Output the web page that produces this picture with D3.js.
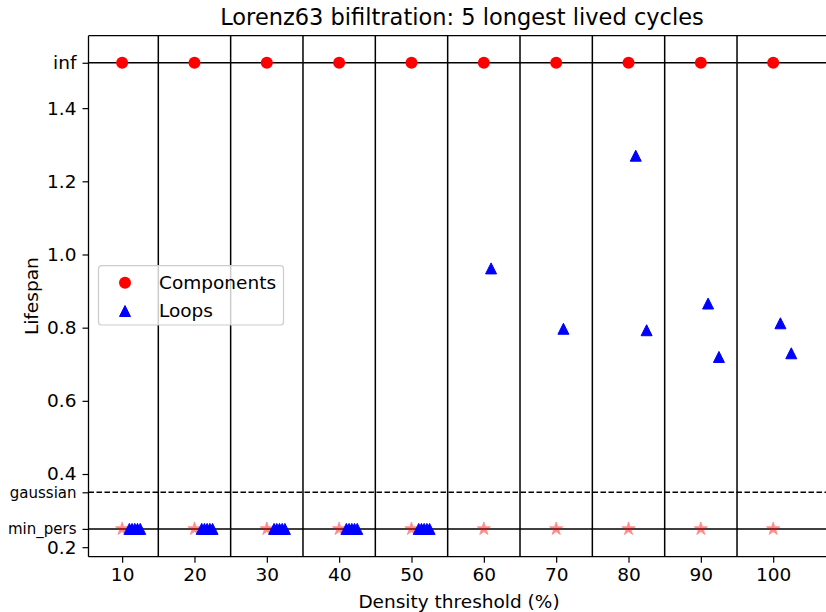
<!DOCTYPE html>
<meta charset="utf-8">
<style>
body{margin:0;background:#fff;}
#chart text{font-family:"DejaVu Sans",sans-serif;fill:#000;}
</style>
<div id="chart"></div>
<script src="https://d3js.org/d3.v7.min.js"></script>
<script>
// data
var thresholds = [10, 20, 30, 40, 50, 60, 70, 80, 90, 100];
var infValue = 1.524;
var gaussianValue = 0.35;
var minPersValue = 0.25;
var separators = [15, 25, 35, 45, 55, 65, 75, 85, 95];
var loopX = [
  [11, 11.375, 11.75, 12.125, 12.5],
  [21, 21.375, 21.75, 22.125, 22.5],
  [31, 31.375, 31.75, 32.125, 32.5],
  [41, 41.375, 41.75, 42.125, 42.5],
  [51, 51.375, 51.75, 52.125, 52.5],
  [61],
  [71],
  [81, 82.5],
  [91, 92.5],
  [101, 102.5]
];
var loopY = [
  [0.25, 0.25, 0.25, 0.25, 0.25],
  [0.25, 0.25, 0.25, 0.25, 0.25],
  [0.25, 0.25, 0.25, 0.25, 0.25],
  [0.25, 0.25, 0.25, 0.25, 0.25],
  [0.25, 0.25, 0.25, 0.25, 0.25],
  [0.962],
  [0.797],
  [1.27, 0.793],
  [0.866, 0.72],
  [0.812, 0.73]
];
var yTicks = [0.2, 0.4, 0.6, 0.8, 1.0, 1.2, 1.4];
var yTickNames = ["0.2", "0.4", "0.6", "0.8", "1.0", "1.2", "1.4"];
var specialTicks = [infValue, gaussianValue, minPersValue];
var specialNames = ["inf", "gaussian", "min_pers"];
var legendNames = ["Components", "Loops"];

var W = 826, H = 612;
var plot = { left: 88.5, top: 35.7, right: 826, bottom: 556.7 };

var svg = d3.select("#chart").append("svg")
  .attr("width", W).attr("height", H);

var x = d3.scaleLinear().domain([5.35, 107.3]).range([plot.left, plot.right]);
var y = d3.scaleLinear().domain([0.174, 1.598]).range([plot.bottom, plot.top]);

// separators and reference lines
svg.append("g").selectAll("line").data(separators).enter().append("line")
  .attr("x1", function(d) { return x(d); }).attr("x2", function(d) { return x(d); })
  .attr("y1", plot.top).attr("y2", plot.bottom)
  .attr("stroke", "#000").attr("stroke-width", 1.5);

svg.append("g").selectAll("line").data([infValue, minPersValue]).enter().append("line")
  .attr("x1", plot.left).attr("x2", W + 5)
  .attr("y1", function(d) { return y(d); }).attr("y2", function(d) { return y(d); })
  .attr("stroke", "#000").attr("stroke-width", 1.5);

svg.append("line")
  .attr("x1", plot.left).attr("x2", W + 5)
  .attr("y1", y(gaussianValue)).attr("y2", y(gaussianValue))
  .attr("stroke", "#000").attr("stroke-width", 1.5)
  .attr("stroke-dasharray", "5.5,2.5");

// axes
var xAxis = svg.append("g")
  .attr("transform", "translate(0," + plot.bottom + ")")
  .call(d3.axisBottom(x).tickValues(thresholds).tickSize(6).tickPadding(5).tickSizeOuter(0));
xAxis.select(".domain").remove();
xAxis.selectAll("line").attr("stroke", "#000").attr("stroke-width", 1.2);
xAxis.selectAll("text").attr("font-size", "18.5px");

var allY = yTicks.concat(specialTicks);
var allNames = yTickNames.concat(specialNames);
var yAxis = svg.append("g")
  .attr("transform", "translate(" + plot.left + ",0)")
  .call(d3.axisLeft(y).tickValues(allY).tickSize(6).tickPadding(6).tickSizeOuter(0)
    .tickFormat(function(d) { return allNames[allY.indexOf(d)]; }));
yAxis.select(".domain").remove();
yAxis.selectAll("line").attr("stroke", "#000").attr("stroke-width", 1.2);
yAxis.selectAll("text").attr("font-size", function(d) {
  return (d === gaussianValue || d === minPersValue) ? "15px" : "18.5px";
});

// spines
svg.append("line").attr("x1", plot.left).attr("x2", plot.left)
  .attr("y1", plot.top).attr("y2", plot.bottom).attr("stroke", "#000").attr("stroke-width", 1.3);
svg.append("line").attr("x1", plot.left).attr("x2", W + 5)
  .attr("y1", plot.bottom).attr("y2", plot.bottom).attr("stroke", "#000").attr("stroke-width", 1.3);
svg.append("line").attr("x1", plot.left).attr("x2", W + 5)
  .attr("y1", plot.top).attr("y2", plot.top).attr("stroke", "#000").attr("stroke-width", 1.3);

// marker shapes
function starPath(r) {
  var pts = [];
  for (var i = 0; i < 10; i++) {
    var rr = i % 2 === 0 ? r : r * 0.381966;
    var a = -Math.PI / 2 + i * Math.PI / 5;
    pts.push([rr * Math.cos(a), rr * Math.sin(a)]);
  }
  return "M" + pts.map(function(p) { return p[0].toFixed(2) + "," + p[1].toFixed(2); }).join("L") + "Z";
}
var triPath = "M0,-5.5L5.5,5.5L-5.5,5.5Z";

// min_pers stars
svg.append("g").selectAll("path").data(thresholds).enter().append("path")
  .attr("d", starPath(7))
  .attr("transform", function(d) { return "translate(" + x(d) + "," + y(minPersValue) + ")"; })
  .attr("fill", "#ff0000").attr("stroke", "#ff0000").attr("stroke-width", 0.8)
  .attr("opacity", 0.45);

// components at inf
svg.append("g").selectAll("circle").data(thresholds).enter().append("circle")
  .attr("cx", function(d) { return x(d); })
  .attr("cy", y(infValue))
  .attr("r", 6)
  .attr("fill", "#ff0000");

// loops
var loops = [];
loopX.forEach(function(xs, i) {
  xs.forEach(function(v, j) { loops.push({ x: v, y: loopY[i][j] }); });
});
svg.append("g").selectAll("path").data(loops).enter().append("path")
  .attr("d", triPath)
  .attr("transform", function(d) { return "translate(" + x(d.x) + "," + y(d.y) + ")"; })
  .attr("fill", "#0000ff").attr("stroke", "#0000ff").attr("stroke-width", 1);

// legend
var lg = svg.append("g");
lg.append("rect")
  .attr("x", 98.5).attr("y", 265.7).attr("width", 185).attr("height", 59.3)
  .attr("rx", 3).attr("fill", "#fff").attr("fill-opacity", 0.8)
  .attr("stroke", "#cccccc").attr("stroke-width", 1.2);
lg.append("circle").attr("cx", 125).attr("cy", 282.7).attr("r", 6).attr("fill", "#ff0000");
lg.append("path").attr("d", triPath).attr("transform", "translate(125,311)")
  .attr("fill", "#0000ff").attr("stroke", "#0000ff").attr("stroke-width", 1);
lg.selectAll("text").data(legendNames).enter().append("text")
  .attr("x", 159)
  .attr("y", function(d, i) { return i === 0 ? 282.7 : 311; })
  .attr("dy", "0.35em")
  .attr("font-size", "18.5px")
  .text(function(d) { return d; });

// titles
svg.append("text")
  .attr("x", 462).attr("y", 25)
  .attr("text-anchor", "middle").attr("font-size", "22.5px")
  .text("Lorenz63 bifiltration: 5 longest lived cycles");
svg.append("text")
  .attr("x", 459).attr("y", 608)
  .attr("text-anchor", "middle").attr("font-size", "18.5px")
  .text("Density threshold (%)");
svg.append("text")
  .attr("transform", "translate(38," + ((plot.top + plot.bottom) / 2) + ") rotate(-90)")
  .attr("text-anchor", "middle").attr("font-size", "18.5px")
  .text("Lifespan");
</script>
